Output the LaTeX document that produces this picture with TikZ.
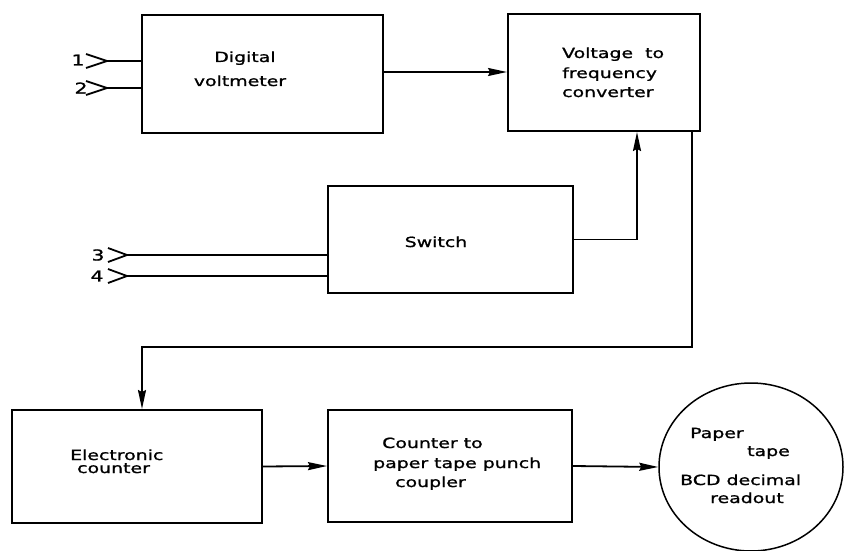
\documentclass[tikz,border=0pt]{standalone}
\usepackage{fontspec}
\setmainfont{DejaVu Sans}[FakeStretch=1.35,FakeBold=1.2]
\usetikzlibrary{arrows.meta,shapes.geometric}
\begin{document}
\begin{tikzpicture}[x=1pt,y=-1pt,
  box/.style={draw, line width=2pt, inner sep=0pt},
  txt/.style={font=\fontsize{14}{18}\selectfont, inner sep=0pt},
  lbl/.style={font=\fontsize{15}{18}\selectfont, inner sep=0pt},
  wire/.style={line width=1.8pt},
  chev/.style={line width=1.8pt, line join=miter},
  arr/.style={wire, -{Stealth[length=19pt,width=8pt,inset=2pt]}}]
\useasboundingbox (0,0) rectangle (844,551);

% boxes
\node[box, minimum width=241pt, minimum height=118pt] (dvm) at (262.5,74) {};
\node[box, minimum width=192pt, minimum height=117pt] (vf) at (604,72.5) {};
\node[box, minimum width=245pt, minimum height=107pt] (sw) at (450.5,239.5) {};
\node[box, minimum width=250pt, minimum height=113pt] (ctr) at (137,466.5) {};
\node[box, minimum width=244pt, minimum height=112pt] (cpl) at (450,466) {};
\node[draw, ellipse, line width=1.5pt, inner sep=0pt, minimum width=184pt, minimum height=168pt] (tape) at (751,467) {};

% texts
\node[txt, anchor=base] (dvmA) at (245,62) {Digital};
\node[txt, anchor=base] (dvmB) at (240,86) {voltmeter};
\node[txt, anchor=base west] (vfA) at (562,58) {Voltage\ \ to};
\node[txt, anchor=base west] (vfB) at (562,78) {frequency};
\node[txt, anchor=base west] (vfC) at (562,97) {converter};
\node[txt, anchor=base] (swA) at (436,247) {Switch};
\node[txt, anchor=base west] (ctrA) at (70,460) {Electronic};
\node[txt, anchor=base west] (ctrB) at (77,473) {counter};
\node[txt, anchor=base west] (cplA) at (382,448) {Counter to};
\node[txt, anchor=base west] (cplB) at (373,468) {paper tape punch};
\node[txt, anchor=base west] (cplC) at (395,487) {coupler};
\node[txt, anchor=base west] (tpA) at (690,438) {Paper};
\node[txt, anchor=base west] (tpB) at (747,456) {tape};
\node[txt, anchor=base west] (tpC) at (680,485) {BCD decimal};
\node[txt, anchor=base west] (tpD) at (710,503) {readout};

% inputs
\node[lbl] (n1) at (78,60) {1};
\coordinate (i1) at (107,61);
\draw[chev] (86,54) -- (i1) -- (86,68);
\draw[wire] (i1) -- (dvm.west |- i1);
\node[lbl] (n2) at (81,88) {2};
\coordinate (i2) at (107,88);
\draw[chev] (86,81) -- (i2) -- (86,95);
\draw[wire] (i2) -- (dvm.west |- i2);
\node[lbl] (n3) at (98,255) {3};
\coordinate (i3) at (127,255);
\draw[chev] (108,248) -- (i3) -- (108,262);
\draw[wire] (i3) -- (sw.west |- i3);
\node[lbl] (n4) at (97,276) {4};
\coordinate (i4) at (127,276);
\draw[chev] (108,269) -- (i4) -- (108,283);
\draw[wire] (i4) -- (sw.west |- i4);

% connectors
\coordinate (vfx) at (637,0);
\coordinate (vfo) at (692,0);
\coordinate (bend) at (0,347);
\coordinate (ctrin) at (142,0);
\draw[arr] (dvm.east |- 0,72) -- (vf.west |- 0,72);
\draw[arr] (sw.east) -| (vf.south -| vfx);
\draw[arr] (vf.south -| vfo) -- (vfo |- bend) -- (ctrin |- bend) -- (ctrin |- ctr.north);
\draw[arr] (ctr.east) -- (cpl.west);
\draw[arr] (cpl.east) -- (tape.west);
\end{tikzpicture}
\end{document}
